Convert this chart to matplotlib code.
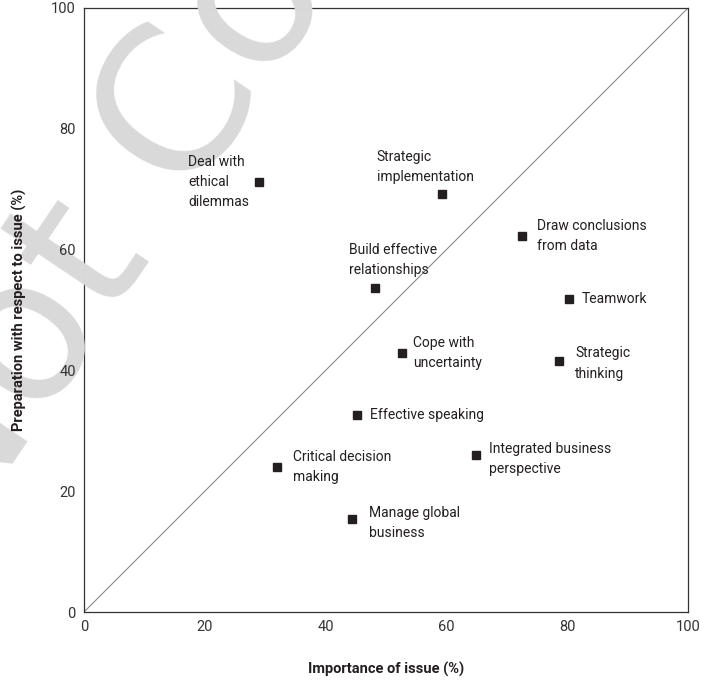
import matplotlib
matplotlib.use("Agg")
from matplotlib import pyplot as plt

# issues: importance (x) vs preparation (y), in %
issues = ["Deal with\nethical\ndilemmas", "Strategic\nimplementation",
          "Draw conclusions\nfrom data", "Build effective\nrelationships",
          "Teamwork", "Cope with\nuncertainty", "Strategic\nthinking",
          "Effective speaking", "Critical decision\nmaking",
          "Integrated business\nperspective", "Manage global\nbusiness"]
importance = [29.0, 59.3, 72.5, 48.2, 80.3, 52.6, 78.6, 45.2, 32.0, 64.9, 44.4]
preparation = [71.2, 69.2, 62.3, 53.6, 51.8, 42.9, 41.6, 32.6, 24.0, 26.0, 15.4]

# label offsets in points and alignment per label
offsets = [(-7, 0), (-47, 7), (11, 0), (-19, 8), (9, 0), (8, 0),
           (12, -2), (9, 0), (11, 0), (9, -3), (12, -3)]
aligns = [("right", "center"), ("left", "bottom"), ("left", "center"),
          ("left", "bottom"), ("left", "center"), ("left", "center"),
          ("left", "center"), ("left", "center"), ("left", "center"),
          ("left", "center"), ("left", "center")]

plt.rcParams["font.family"] = ["Roboto", "DejaVu Sans"]

dark = "#231f20"
fig = plt.figure(figsize=(7.01, 6.82), dpi=100)
ax = fig.add_axes([0.1198, 0.1026, 0.8617, 0.8857])

ax.plot([0, 100], [0, 100], color="#8a8a8a", lw=0.8, zorder=1)
ax.plot(importance, preparation, "s", color=dark, ms=5.8, zorder=3)

for name, x, y, off, al in zip(issues, importance, preparation, offsets, aligns):
    ax.annotate(name, (x, y), xytext=off, textcoords="offset points",
                ha=al[0], va=al[1], multialignment="left",
                fontsize=10, color=dark, linespacing=1.55, zorder=4)

ax.set_xlim(0, 100)
ax.set_ylim(0, 100)
ax.set_xticks(range(0, 101, 20))
ax.set_yticks(range(0, 101, 20))
ax.tick_params(length=0, labelsize=10.5, labelcolor="#333333", pad=6)
for s in ax.spines.values():
    s.set_color("#333333")
    s.set_linewidth(0.9)

ax.set_xlabel("Importance of issue (%)", fontsize=10.5, fontweight="bold",
              color=dark)
ax.set_ylabel("Preparation with respect to issue (%)", fontsize=10.5,
              fontweight="bold", color=dark)
ax.xaxis.set_label_coords(0.5, -0.083)
ax.yaxis.set_label_coords(-0.094, 0.5)
ax.xaxis.set_zorder(3)
ax.yaxis.set_zorder(3)

# watermark across the upper left
ax.text(-0.064, 0.194, "Not Copy", transform=fig.transFigure, clip_on=False,
        fontsize=145, color="#d9d9d9", rotation=56, rotation_mode="anchor",
        ha="left", va="baseline", family="DejaVu Sans", zorder=2.6)

fig.savefig("out.png", dpi=100)
